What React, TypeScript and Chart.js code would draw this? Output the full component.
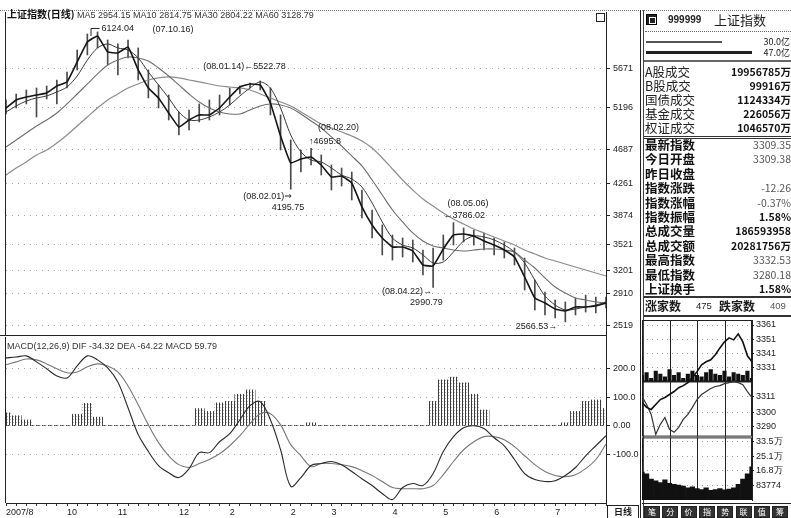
import React, { useEffect, useRef } from 'react';
import { Chart, registerables } from 'chart.js';

Chart.register(...registerables);

// ---------------- daily chart (one point ≈ every 3 trading days) ----------------
const monthLabels = ['2007/8', '', '', '', '', '', '10', '', '', '', '', '11', '', '', '', '', '', '12', '', '', '', '', '2', '', '', '', '', '', '2', '', '', '', '3', '', '', '', '', '', '4', '', '', '', '', '5', '', '', '', '', '6', '', '', '', '', '', '7', '', '', '', '', ''];

const closeIdx = [5191, 5290, 5326, 5351, 5376, 5461, 5511, 5756, 6001, 6075, 5879, 5866, 5940, 5658, 5437, 5314, 5130, 4958, 5044, 5106, 5106, 5191, 5326, 5449, 5486, 5474, 5253, 4848, 4517, 4566, 4590, 4492, 4345, 4357, 4271, 3977, 3756, 3596, 3486, 3486, 3437, 3265, 3253, 3461, 3633, 3645, 3621, 3560, 3510, 3449, 3363, 3118, 2860, 2799, 2725, 2701, 2750, 2750, 2762, 2799];
const highs = [5290, 5363, 5412, 5437, 5461, 5535, 5633, 5903, 6099, 6124.04, 6026, 5977, 6026, 5928, 5658, 5474, 5351, 5142, 5167, 5241, 5290, 5351, 5437, 5461, 5498, 5522.78, 5437, 5106, 4799, 4676, 4695.8, 4615, 4492, 4455, 4406, 4185, 3940, 3756, 3633, 3596, 3572, 3449, 3474, 3633, 3786.02, 3719, 3695, 3658, 3596, 3547, 3474, 3351, 3081, 2934, 2836, 2811, 2860, 2897, 2872, 2872];
const lows = [5118, 5191, 5241, 5081, 5302, 5241, 5437, 5658, 5842, 5928, 5719, 5596, 5805, 5535, 5314, 5191, 5044, 4860, 4922, 5020, 5044, 5106, 5228, 5363, 5437, 5412, 5106, 4676, 4195.75, 4406, 4492, 4369, 4185, 4234, 4063, 3842, 3596, 3388, 3326, 3363, 3302, 3142, 2990.79, 3326, 3510, 3547, 3510, 3449, 3388, 3351, 3265, 2958, 2713, 2652, 2615, 2566.53, 2652, 2688, 2676, 2737];
const ma10 = [5142, 5216, 5277, 5314, 5339, 5388, 5449, 5584, 5780, 5928, 5977, 5928, 5903, 5805, 5633, 5474, 5314, 5142, 5044, 5044, 5081, 5142, 5228, 5339, 5437, 5511, 5437, 5191, 4860, 4652, 4553, 4529, 4455, 4369, 4320, 4222, 4026, 3793, 3596, 3510, 3474, 3388, 3290, 3302, 3425, 3560, 3621, 3609, 3572, 3510, 3425, 3290, 3081, 2885, 2774, 2713, 2725, 2750, 2774, 2811];
const ma30 = [4713, 4799, 4885, 4971, 5044, 5130, 5241, 5363, 5486, 5609, 5719, 5780, 5817, 5805, 5768, 5682, 5584, 5474, 5363, 5265, 5191, 5142, 5118, 5118, 5167, 5216, 5241, 5228, 5191, 5118, 5032, 4946, 4836, 4725, 4603, 4480, 4308, 4124, 3940, 3793, 3658, 3560, 3498, 3474, 3449, 3437, 3449, 3461, 3461, 3449, 3425, 3326, 3228, 3106, 2995, 2921, 2860, 2836, 2811, 2799];
const ma60 = [4369, 4455, 4529, 4615, 4676, 4762, 4860, 4971, 5081, 5191, 5290, 5363, 5437, 5486, 5535, 5560, 5572, 5560, 5535, 5511, 5486, 5461, 5449, 5437, 5412, 5363, 5314, 5265, 5216, 5142, 5069, 4995, 4946, 4897, 4848, 4787, 4701, 4578, 4443, 4308, 4185, 4075, 3989, 3903, 3829, 3768, 3707, 3658, 3609, 3560, 3510, 3449, 3400, 3351, 3314, 3277, 3241, 3204, 3167, 3130];
const priceTicks = [5671, 5196, 4687, 4261, 3874, 3521, 3201, 2910, 2519];

const difLine = [237, 240, 244, 223, 199, 174, 167, 209, 244, 230, 202, 153, 63, -31, -90, -139, -164, -181, -150, -94, -94, -56, -28, 21, 70, 84, 21, -84, -212, -181, -139, -132, -125, -136, -160, -185, -209, -237, -258, -216, -202, -209, -167, -90, -38, -7, 0, -10, -42, -70, -118, -167, -188, -195, -192, -174, -146, -105, -70, -35];
const deaLine = [213, 223, 233, 230, 216, 199, 185, 188, 206, 216, 209, 188, 139, 73, 3, -59, -105, -136, -146, -132, -118, -98, -70, -35, 7, 42, 42, 3, -66, -105, -143, -132, -132, -136, -143, -157, -174, -195, -216, -220, -220, -220, -209, -171, -125, -84, -56, -38, -38, -49, -73, -105, -136, -160, -174, -178, -171, -150, -118, -64];
const macdBars = [45, 35, 20, 0, 0, 0, 0, 40, 78, 30, 0, 0, 0, 0, 0, 0, 0, 0, 0, 60, 50, 80, 85, 110, 125, 85, 0, 0, 0, 0, 10, 0, 0, 0, 0, 0, 0, 0, 0, 0, 0, 0, 85, 160, 170, 150, 110, 55, 0, 0, 0, 0, 0, 0, 0, 10, 50, 85, 90, 60];
const macdTicks = [-100, 0, 100, 200];
const macdTickLabels = ['-100.0', '0.00', '100.0', '200.0'];

const mainTitle = '上证指数(日线)';
const maLegend = 'MA5 2954.15 MA10 2814.75 MA30 2804.22 MA60 3128.79';
const macdTitle = 'MACD(12,26,9) DIF -34.32 DEA -64.22 MACD 59.79';

// annotations: which bar and which extreme they point at
const noteText = ['6124.04', '(07.10.16)', '(08.01.14)←5522.78', '(08.02.20)', '↑4695.8', '(08.02.01)⇒', '4195.75', '(08.05.06)', '←3786.02', '(08.04.22)→', '2990.79', '2566.53→'];
const noteIdx = [9, 9, 25, 30, 30, 28, 28, 44, 44, 42, 42, 55];
const noteFrom = ['high', 'high', 'high', 'high', 'high', 'low', 'low', 'high', 'high', 'low', 'low', 'low'];

// ---------------- right info panel ----------------
const stockCode = '999999';
const stockName = '上证指数';
const flowValues = ['30.0亿', '47.0亿'];
const marketLabels = ['A股成交', 'B股成交', '国债成交', '基金成交', '权证成交'];
const marketValues = ['19956785万', '99916万', '1124334万', '226056万', '1046570万'];
const quoteLabels = ['最新指数', '今日开盘', '昨日收盘', '指数涨跌', '指数涨幅', '指数振幅', '总成交量', '总成交额', '最高指数', '最低指数', '上证换手'];
const quoteValues = ['3309.35', '3309.38', '', '-12.26', '-0.37%', '1.58%', '186593958', '20281756万', '3332.53', '3280.18', '1.58%'];
const quoteBold = [false, false, false, false, false, true, true, true, false, false, true];
const breadthRow = ['涨家数', '475', '跌家数', '409'];
const tabLabels = ['笔', '分', '价', '指', '势', '联', '值', '筹'];
const periodTab = '日线';

// ---------------- intraday mini chart ----------------
const miniTimes = ['09:30', '09:40', '09:50', '10:00', '10:10', '10:20', '10:30', '10:40', '10:50', '11:00', '11:10', '11:20', '11:30', '13:10', '13:20', '13:30', '13:40', '13:50', '14:00', '14:10', '14:20', '14:30', '14:40', '14:50', '15:00'];
const miniPrice = [3306.8, 3303.4, 3302.0, 3305.4, 3308.9, 3310.3, 3312.4, 3314.5, 3317.2, 3318.6, 3320.7, 3324.2, 3328.4, 3333.2, 3335.3, 3336.7, 3340.2, 3345.0, 3349.2, 3352.0, 3350.6, 3354.8, 3349.2, 3339.5, 3335.3];
const miniAvg = [3311.0, 3305.4, 3298.5, 3284.6, 3291.6, 3296.4, 3288.1, 3286.0, 3289.5, 3295.0, 3298.5, 3303.4, 3308.9, 3312.4, 3314.5, 3316.6, 3318.0, 3318.6, 3320.0, 3320.7, 3321.4, 3320.7, 3319.3, 3314.5, 3310.3];
const miniBreadth = [3326, 3328, 3324, 3329, 3327, 3325, 3330, 3326, 3328, 3324, 3327, 3329, 3326, 3325, 3328, 3330, 3327, 3326, 3329, 3325, 3328, 3327, 3326, 3329, 3324];
const miniVol = [160000, 150000, 120000, 110000, 100000, 115000, 95000, 90000, 85000, 80000, 70000, 75000, 65000, 60000, 70000, 55000, 60000, 65000, 58000, 62000, 70000, 90000, 120000, 150000, 190000];
const prevClose = 3321.61;
const miniPriceTicks = [3361, 3351, 3341, 3331, 3311, 3300, 3290];
const miniVolTicks = [83774, 168000, 251000, 335000];
const miniVolTickLabels = ['83774', '16.8万', '25.1万', '33.5万'];
const miniGridIdx = [6, 12, 18];

const latin = "'Liberation Sans', 'DejaVu Sans', Arial, sans-serif";
const cjk = "'Noto Sans CJK SC', 'Liberation Sans', sans-serif";

export default function App() {
  const priceRef = useRef<HTMLCanvasElement>(null);
  const macdRef = useRef<HTMLCanvasElement>(null);
  const miniRef = useRef<HTMLCanvasElement>(null);
  const volRef = useRef<HTMLCanvasElement>(null);

  useEffect(() => {
    Chart.defaults.font.family = latin;
    const charts: any[] = [];

    const framePlugin = {
      id: 'frame',
      afterDraw(chart: any) {
        const { ctx, chartArea: a } = chart;
        ctx.save();
        ctx.strokeStyle = '#222';
        ctx.lineWidth = 1;
        ctx.beginPath();
        ctx.moveTo(a.left - 0.5, a.top);
        ctx.lineTo(a.left - 0.5, a.bottom);
        ctx.stroke();
        if (chart.canvas === macdRef.current) {
          ctx.beginPath();
          ctx.moveTo(0, a.top - 1.5);
          ctx.lineTo(a.right, a.top - 1.5);
          ctx.stroke();
        } else {
          ctx.strokeRect(a.right - 9.5, a.top + 1.5, 8, 8);
        }
        ctx.restore();
      },
    };

    const noteLayout: any[] = [[4, -3, 'left'], [55, -2, 'left'], [-57, -14, 'left'], [7, -21, 'left'], [-2, -7, 'left'], [1, 7, 'right'], [-19, 18, 'left'], [-6, -19, 'left'], [-10, -7, 'left'], [-1, 4, 'right'], [-23, 15, 'left'], [-8, 5, 'right']];
    const notesPlugin = {
      id: 'notes',
      afterDatasetsDraw(chart: any) {
        const { ctx, scales } = chart;
        ctx.save();
        ctx.font = `9px ${latin}`;
        ctx.fillStyle = '#1a1a1a';
        ctx.textBaseline = 'middle';
        noteText.forEach((t, k) => {
          const i = noteIdx[k];
          const v = noteFrom[k] === 'high' ? highs[i] : lows[i];
          const x = scales.x.getPixelForValue(i);
          const y = scales.y.getPixelForValue(v);
          const [dx, dy, al] = noteLayout[k];
          ctx.textAlign = al;
          ctx.fillText(t, x + dx, y + dy);
        });
        const px = scales.x.getPixelForValue(noteIdx[0]);
        const py = scales.y.getPixelForValue(highs[noteIdx[0]]);
        ctx.strokeStyle = '#222';
        ctx.beginPath();
        ctx.moveTo(px - 6.5, py + 4);
        ctx.lineTo(px - 6.5, py - 3.5);
        ctx.lineTo(px + 2, py - 3.5);
        ctx.stroke();
        ctx.restore();
      },
    };

    // daily price panel
    charts.push(
      new Chart(priceRef.current as any, {
        type: 'line',
        data: {
          labels: monthLabels,
          datasets: [
            { type: 'bar', label: 'range', data: lows.map((l, k) => [l, highs[k]]) as any, backgroundColor: '#4a4a4a', barThickness: 1, order: 10 } as any,
            { label: 'MA60', data: ma60, borderColor: '#8c8c8c', borderWidth: 1.2, pointRadius: 0, tension: 0.35, order: 4 },
            { label: 'MA30', data: ma30, borderColor: '#6e6e6e', borderWidth: 1.1, pointRadius: 0, tension: 0.35, order: 3 },
            { label: 'MA10', data: ma10, borderColor: '#3a3a3a', borderWidth: 1, pointRadius: 0, tension: 0.3, order: 2 },
            { label: '上证指数', data: closeIdx, borderColor: '#151515', borderWidth: 1.6, pointRadius: 0, tension: 0.1, order: 1 },
          ],
        },
        options: {
          responsive: false,
          animation: false,
          layout: { padding: { left: 6, top: 12, right: 0, bottom: 9 } },
          plugins: { legend: { display: false }, tooltip: { enabled: false } },
          scales: {
            x: { display: false, offset: false },
            y: {
              position: 'right',
              min: 2394,
              max: 6369,
              afterFit: (s: any) => { s.width = 34; },
              afterBuildTicks: (s: any) => { s.ticks = priceTicks.map((v) => ({ value: v })); },
              ticks: { autoSkip: false, font: { size: 9 }, color: '#222', padding: 3, callback: (v: any) => String(v) },
              grid: { color: '#a8a8a8', lineWidth: 1, tickLength: 4, tickColor: '#222' },
              border: { display: true, color: '#222', width: 1, dash: [1, 5] },
            },
          },
        } as any,
        plugins: [framePlugin, notesPlugin],
      })
    );

    // MACD panel
    const pc = document.createElement('canvas');
    pc.width = 3;
    pc.height = 3;
    const pctx = pc.getContext('2d') as CanvasRenderingContext2D;
    pctx.fillStyle = '#3c3c3c';
    pctx.fillRect(0, 0, 1, 3);
    pctx.fillStyle = '#b8b8b8';
    pctx.fillRect(1, 1, 1, 1);
    const hatch = pctx.createPattern(pc, 'repeat');

    charts.push(
      new Chart(macdRef.current as any, {
        type: 'line',
        data: {
          labels: monthLabels,
          datasets: [
            { type: 'bar', label: 'MACD', data: macdBars, backgroundColor: hatch as any, barPercentage: 1, categoryPercentage: 1, order: 5 } as any,
            { label: 'DEA', data: deaLine, borderColor: '#777', borderWidth: 1.1, pointRadius: 0, tension: 0.35, order: 2 },
            { label: 'DIF', data: difLine, borderColor: '#2a2a2a', borderWidth: 1.1, pointRadius: 0, tension: 0.35, order: 1 },
          ],
        },
        options: {
          responsive: false,
          animation: false,
          layout: { padding: { left: 6, top: 9, right: 0, bottom: 0 } },
          plugins: { legend: { display: false }, tooltip: { enabled: false } },
          scales: {
            x: {
              offset: false,
              afterFit: (s: any) => { s.height = 15; },
              ticks: { autoSkip: false, maxRotation: 0, align: 'start', font: { size: 9 }, color: '#222', padding: 1 },
              grid: { display: true, drawOnChartArea: false, drawTicks: true, tickLength: 3, color: '#333', offset: false },
              border: { display: true, color: '#222' },
            },
            y: {
              position: 'right',
              min: -270,
              max: 310,
              afterFit: (s: any) => { s.width = 34; },
              afterBuildTicks: (s: any) => { s.ticks = macdTicks.map((v) => ({ value: v })); },
              ticks: { autoSkip: false, font: { size: 9 }, color: '#222', padding: 3, callback: (v: any) => macdTickLabels[macdTicks.indexOf(v)] },
              grid: { color: (c: any) => (c.tick && c.tick.value === 0 ? '#555' : '#a8a8a8'), tickLength: 4, tickColor: '#222' },
              border: { display: true, color: '#222', dash: (c: any) => (c.tick && c.tick.value === 0 ? [3, 3] : [1, 5]) },
            },
          },
        } as any,
        plugins: [framePlugin],
      })
    );

    const miniPlugin = {
      id: 'miniGrid',
      beforeDatasetsDraw(chart: any) {
        const { ctx, chartArea: a, scales } = chart;
        ctx.save();
        ctx.strokeStyle = '#222';
        ctx.lineWidth = 1;
        miniGridIdx.forEach((k) => {
          const x = Math.round(scales.x.getPixelForValue(k)) + 0.5;
          ctx.beginPath();
          ctx.moveTo(x, a.top);
          ctx.lineTo(x, a.bottom);
          ctx.stroke();
        });
        ctx.strokeRect(a.left + 0.5, a.top + 0.5, a.width - 1, a.height - 1);
        if (chart.canvas === miniRef.current) {
          const y = Math.round(scales.y.getPixelForValue(prevClose)) + 0.5;
          ctx.lineWidth = 2;
          ctx.beginPath();
          ctx.moveTo(a.left, y);
          ctx.lineTo(a.right, y);
          ctx.stroke();
        }
        ctx.restore();
      },
    };

    charts.push(
      new Chart(miniRef.current as any, {
        type: 'line',
        data: {
          labels: miniTimes,
          datasets: [
            { type: 'bar', label: 'breadth', data: miniBreadth.map((v) => [prevClose, v]) as any, backgroundColor: '#111', barPercentage: 0.9, categoryPercentage: 1, order: 5 } as any,
            { label: 'avg', data: miniAvg, borderColor: '#333', borderWidth: 1.2, pointRadius: 0, order: 2 },
            { label: 'price', data: miniPrice, borderColor: '#111', borderWidth: 1.6, pointRadius: 0, order: 1 },
          ],
        },
        options: {
          responsive: false,
          animation: false,
          layout: { padding: { left: 0, top: 8, right: 0, bottom: 7 } },
          plugins: { legend: { display: false }, tooltip: { enabled: false } },
          scales: {
            x: { display: false, offset: false },
            y: {
              position: 'right',
              min: 3283,
              max: 3364.5,
              afterFit: (s: any) => { s.width = 39; },
              afterBuildTicks: (s: any) => { s.ticks = miniPriceTicks.map((v) => ({ value: v })); },
              ticks: { autoSkip: false, font: { size: 9 }, color: '#222', padding: 2, callback: (v: any) => String(v) },
              grid: { color: '#9a9a9a', tickLength: 2, tickColor: '#222' },
              border: { display: true, color: '#222', dash: [1, 4] },
            },
          },
        } as any,
        plugins: [miniPlugin],
      })
    );

    charts.push(
      new Chart(volRef.current as any, {
        type: 'bar',
        data: {
          labels: miniTimes,
          datasets: [{ label: 'vol', data: miniVol, backgroundColor: '#111', barPercentage: 1, categoryPercentage: 1 }],
        },
        options: {
          responsive: false,
          animation: false,
          layout: { padding: { left: 0, top: 7, right: 0, bottom: 10 } },
          plugins: { legend: { display: false }, tooltip: { enabled: false } },
          scales: {
            x: { display: false, offset: false },
            y: {
              position: 'right',
              min: 0,
              max: 357700,
              afterFit: (s: any) => { s.width = 39; },
              afterBuildTicks: (s: any) => { s.ticks = miniVolTicks.map((v) => ({ value: v })); },
              ticks: { autoSkip: false, font: { size: 9 }, color: '#222', padding: 2, callback: (v: any) => miniVolTickLabels[miniVolTicks.indexOf(v)] },
              grid: { color: '#9a9a9a', tickLength: 2, tickColor: '#222' },
              border: { display: true, color: '#222', dash: [1, 4] },
            },
          },
        } as any,
        plugins: [miniPlugin],
      })
    );

    return () => charts.forEach((c) => c.destroy());
  }, []);

  const abs = (l: number, t: number, w: number, h: number, extra: any = {}) => ({ position: 'absolute' as const, left: l, top: t, width: w, height: h, ...extra });

  return (
    <div style={{ position: 'fixed', left: 0, top: 0, width: 791, height: 518, background: '#fff', overflow: 'hidden', fontFamily: latin, color: '#1a1a1a' }}>
      <div style={abs(0, 10, 791, 0, { borderTop: '1px dotted #777' })} />
      <canvas ref={priceRef} width={640} height={345} style={{ position: 'absolute', left: 0, top: 0 }} />
      <canvas ref={macdRef} width={640} height={190} style={{ position: 'absolute', left: 0, top: 328 }} />
      <div style={abs(7, 8, 400, 12, { fontSize: 9, lineHeight: '12px', whiteSpace: 'nowrap' })}>
        <span style={{ fontFamily: cjk, fontWeight: 700, fontSize: 10, color: '#111' }}>{mainTitle}</span>{' '}
        <span style={{ color: '#333' }}>{maLegend}</span>
      </div>
      <div style={abs(7, 340, 300, 12, { fontSize: 9, lineHeight: '12px', whiteSpace: 'nowrap', color: '#333' })}>{macdTitle}</div>
      <div style={abs(607, 505, 30, 12, { border: '1px solid #222', fontFamily: cjk, fontSize: 9, lineHeight: '12px', textAlign: 'center', fontWeight: 700 })}>{periodTab}</div>

      {/* right panel */}
      <div style={abs(640, 10, 1, 508, { background: '#222' })} />
      <div style={abs(643, 10, 1, 508, { background: '#444' })} />
      <div style={abs(646, 14, 11, 11, { background: '#222', border: '1px solid #000', boxSizing: 'border-box' })}>
        <div style={abs(2, 2, 5, 5, { border: '1px solid #fff' })} />
      </div>
      <div style={abs(668, 12, 46, 16, { fontSize: 10, fontWeight: 700, lineHeight: '16px', color: '#222' })}>{stockCode}</div>
      <div style={abs(714, 11, 70, 18, { fontFamily: cjk, fontSize: 13, lineHeight: '18px', color: '#222' })}>{stockName}</div>
      <div style={abs(645, 31, 146, 0, { borderTop: '1px dotted #666' })} />
      <div style={abs(646, 41, 76, 2, { background: '#555' })} />
      <div style={abs(646, 51, 106, 3, { background: '#222' })} />
      <div style={abs(730, 35, 60, 13, { fontFamily: cjk, fontSize: 9, lineHeight: '13px', textAlign: 'right' })}>{flowValues[0]}</div>
      <div style={abs(730, 46, 60, 13, { fontFamily: cjk, fontSize: 9, lineHeight: '13px', textAlign: 'right' })}>{flowValues[1]}</div>
      <div style={abs(644, 60, 147, 0, { borderTop: '2px solid #666' })} />
      {marketLabels.map((lab, k) => (
        <React.Fragment key={lab}>
          <div style={abs(645, 65 + k * 14, 70, 14, { fontFamily: cjk, fontSize: 12.5, lineHeight: '14px', color: '#222' })}>{lab}</div>
          <div style={abs(700, 65 + k * 14, 91, 14, { fontFamily: cjk, fontSize: 10.5, fontWeight: 700, lineHeight: '14px', textAlign: 'right', color: '#111' })}>{marketValues[k]}</div>
        </React.Fragment>
      ))}
      <div style={abs(644, 136, 147, 1, { borderTop: '1px solid #333', borderBottom: '1px solid #333' })} />
      {quoteLabels.map((lab, k) => (
        <React.Fragment key={lab}>
          <div style={abs(645, 138 + k * 14.4, 70, 14, { fontFamily: cjk, fontSize: 12.5, fontWeight: 700, lineHeight: '14px', color: '#111' })}>{lab}</div>
          <div style={abs(700, 138 + k * 14.4, 91, 14, { fontFamily: cjk, fontSize: 10.5, fontWeight: quoteBold[k] ? 700 : 400, lineHeight: '14px', textAlign: 'right', color: quoteBold[k] ? '#111' : '#555' })}>{quoteValues[k]}</div>
        </React.Fragment>
      ))}
      <div style={abs(644, 296, 147, 0, { borderTop: '2px solid #333' })} />
      <div style={abs(645, 299, 40, 14, { fontFamily: cjk, fontSize: 12, fontWeight: 700, lineHeight: '14px' })}>{breadthRow[0]}</div>
      <div style={abs(696, 299, 20, 14, { fontSize: 9.5, lineHeight: '14px' })}>{breadthRow[1]}</div>
      <div style={abs(719, 299, 40, 14, { fontFamily: cjk, fontSize: 12, fontWeight: 700, lineHeight: '14px' })}>{breadthRow[2]}</div>
      <div style={abs(770, 299, 22, 14, { fontSize: 9.5, lineHeight: '14px', color: '#555' })}>{breadthRow[3]}</div>
      <div style={abs(644, 315, 147, 0, { borderTop: '2px solid #333' })} />
      <canvas ref={miniRef} width={149} height={132} style={{ position: 'absolute', left: 642, top: 312 }} />
      <canvas ref={volRef} width={149} height={80} style={{ position: 'absolute', left: 642, top: 430 }} />
      <div style={abs(642, 503, 149, 0, { borderTop: '1px solid #222' })} />
      {tabLabels.map((t, k) => (
        <div key={t} style={abs(644 + k * 18.3, 506, 16, 12, { border: '1px solid #222', boxSizing: 'border-box', background: '#333', color: '#fff', fontFamily: cjk, fontSize: 8, lineHeight: '10px', textAlign: 'center' })}>{t}</div>
      ))}
    </div>
  );
}
